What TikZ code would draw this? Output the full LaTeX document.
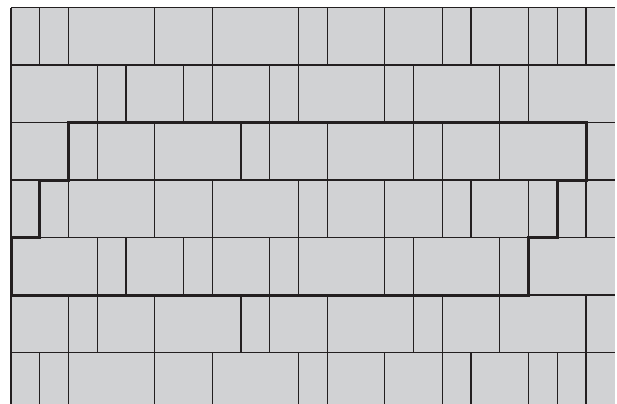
\documentclass[tikz,border=0pt]{standalone}
\usepackage{xcolor}
\usepackage{tikz}
\definecolor{tilegray}{HTML}{D1D2D4}
\definecolor{jointblack}{HTML}{231F20}

\begin{document}
\begin{tikzpicture}[x=28.75pt,y=-28.75pt]
  \tikzset{joint/.style={draw=jointblack, line width=1.2pt},
           outline/.style={draw=jointblack, line width=3pt, line join=miter}}
  \useasboundingbox (-0.383,-0.261) rectangle (21.078,13.757);
  \clip (-0.383,-0.261) rectangle (21.078,13.757);

  \fill[tilegray] (0,0) rectangle (21,14);

  % courses
  \foreach \y in {0,2,...,12}
    \draw[joint] (0,\y) -- (21,\y);
  \draw[joint] (0,0) -- (0,14);

  % joints in each course
  \foreach \y/\cuts in {0/{1,2,5,7,10,11,13,15,16,18,19,20},
                        2/{3,4,6,7,9,10,13,14,17,18},
                        4/{2,3,5,8,9,11,14,15,17,20},
                        6/{1,2,5,7,10,11,13,15,16,18,19,20},
                        8/{3,4,6,7,9,10,13,14,17,18},
                        10/{2,3,5,8,9,11,14,15,17,20},
                        12/{1,2,5,7,10,11,13,15,16,18,19,20}}
    \foreach \x in \cuts
      \draw[joint] (\x,\y) -- (\x,\y+2);

  % marked area
  \draw[outline] (2,4) -- (20,4) -- (20,6) -- (19,6) -- (19,8) -- (18,8)
    -- (18,10) -- (0,10) -- (0,8) -- (1,8) -- (1,6) -- (2,6) -- cycle;
\end{tikzpicture}
\end{document}
